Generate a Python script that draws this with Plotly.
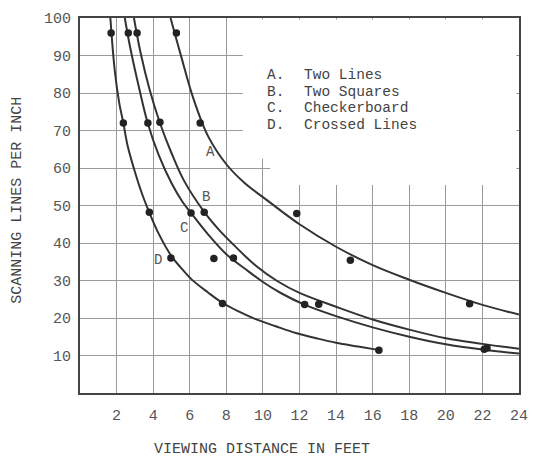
import plotly.graph_objects as go

# ---- data ----
x_ticks = [2, 4, 6, 8, 10, 12, 14, 16, 18, 20, 22, 24]
y_ticks = [10, 20, 30, 40, 50, 60, 70, 80, 90, 100]

curve_a_x = [4.95, 5.5, 6.2, 7.0, 8.0, 9.0, 10.2, 12.0, 14.0, 16.0, 18.0, 20.0, 22.0, 24.0]
curve_a_y = [100, 90.3, 78.5, 68.5, 61, 56, 51.5, 45, 39, 34.1, 30.2, 26.7, 23.5, 20.9]

curve_b_x = [2.95, 3.3, 3.8, 4.37, 5.0, 5.7, 6.79, 7.6, 8.4, 9.6, 10.8, 12.0, 14.0, 16.0, 18.0, 20.0, 22.0, 24.0]
curve_b_y = [100, 91, 81, 72, 64, 56.5, 48.3, 43.5, 39.5, 34, 29.8, 26.7, 23, 19.6, 16.9, 14.6, 13.1, 11.8]

curve_c_x = [2.45, 2.75, 3.2, 3.7, 4.3, 5.0, 5.6, 6.07, 7.0, 8.0, 9.0, 10.0, 11.0, 12.3, 14.0, 16.0, 18.0, 20.0, 22.0, 24.0]
curve_c_y = [100, 92, 82, 72, 63.5, 56, 51, 48, 42.3, 37, 33.2, 29.6, 26.6, 23.5, 20.5, 17.5, 15, 13, 11.6, 10.5]

curve_d_x = [1.66, 1.9, 2.14, 2.37, 2.6, 3.0, 3.4, 3.8, 4.3, 5.0, 5.5, 6.1, 7.0, 7.8, 8.7, 9.6, 10.7, 11.8, 13.0, 14.0, 15.2, 16.3]
curve_d_y = [100, 86, 77.5, 72, 66, 59, 53, 48, 42.5, 36.5, 33.5, 30.3, 26.8, 24, 21.7, 19.7, 17.8, 16, 14.5, 13.4, 12.4, 11.5]

points_a_x = [5.27, 6.57, 11.85, 14.78, 21.3]
points_a_y = [96, 72, 47.9, 35.4, 23.8]
points_b_x = [3.12, 4.37, 6.79, 8.39, 13.05, 22.25]
points_b_y = [96, 72.2, 48.2, 36, 23.7, 12.0]
points_c_x = [2.64, 3.71, 6.07, 7.32, 12.28, 22.1]
points_c_y = [96, 72, 48, 35.9, 23.6, 11.7]
points_d_x = [1.70, 2.37, 3.79, 4.97, 7.79, 16.34]
points_d_y = [96, 72, 48.2, 36, 23.9, 11.4]

curve_letters = ["A", "B", "C", "D"]
curve_names = ["Two Lines", "Two Squares", "Checkerboard", "Crossed Lines"]

FONT = "Liberation Mono"
LINE_COLOR = "#333333"
DOT_COLOR = "#222222"
TEXT_COLOR = "#444444"

fig = go.Figure()

for cx, cy in [(curve_a_x, curve_a_y), (curve_b_x, curve_b_y),
               (curve_c_x, curve_c_y), (curve_d_x, curve_d_y)]:
    fig.add_trace(go.Scatter(x=cx, y=cy, mode="lines",
                             line=dict(color=LINE_COLOR, width=2, shape="spline", smoothing=1.0),
                             hoverinfo="skip", showlegend=False))

for px, py in [(points_a_x, points_a_y), (points_b_x, points_b_y),
               (points_c_x, points_c_y), (points_d_x, points_d_y)]:
    fig.add_trace(go.Scatter(x=px, y=py, mode="markers",
                             marker=dict(color=DOT_COLOR, size=7.5),
                             showlegend=False))

annotations = []
# curve labels
label_pos = [(7.12, 64.4), (6.9, 52.4), (5.68, 44.1), (4.28, 35.6)]
for letter, (lx, ly) in zip(curve_letters, label_pos):
    annotations.append(dict(x=lx, y=ly, xref="x", yref="y", text=letter, showarrow=False,
                            font=dict(family=FONT, size=14, color="#555555")))

# key
key_rows = [84.7, 80.3, 76.1, 71.6]
for letter, name, ry in zip(curve_letters, curve_names, key_rows):
    annotations.append(dict(x=10.18, y=ry, xref="x", yref="y", text=letter + ".",
                            showarrow=False, xanchor="left", yanchor="middle", borderpad=0,
                            font=dict(family=FONT, size=14.5, color=TEXT_COLOR)))
    annotations.append(dict(x=12.2, y=ry, xref="x", yref="y", text=name,
                            showarrow=False, xanchor="left", yanchor="middle", borderpad=0,
                            font=dict(family=FONT, size=14.5, color=TEXT_COLOR)))

# axis titles
annotations.append(dict(x=0.415, y=-0.152, xref="paper", yref="paper",
                        text="VIEWING DISTANCE IN FEET", showarrow=False,
                        xanchor="center", yanchor="middle",
                        font=dict(family=FONT, size=15, color=TEXT_COLOR)))
annotations.append(dict(x=-0.143, y=0.513, xref="paper", yref="paper",
                        text="SCANNING LINES PER INCH", showarrow=False, textangle=-90,
                        xanchor="center", yanchor="middle",
                        font=dict(family=FONT, size=15, color=TEXT_COLOR)))

shapes = [
    dict(type="rect", xref="x", yref="y", x0=8.9, x1=23.85, y0=62.5, y1=99.6,
         fillcolor="white", line=dict(width=0), layer="between"),
    dict(type="rect", xref="x", yref="y", x0=10.4, x1=23.85, y0=55.5, y1=62.5,
         fillcolor="white", line=dict(width=0), layer="between"),
]

fig.update_layout(
    width=535, height=457,
    margin=dict(l=80, r=7, t=18, b=64),
    paper_bgcolor="white", plot_bgcolor="white",
    annotations=annotations, shapes=shapes,
    xaxis=dict(range=[0, 24], tickvals=x_ticks, ticktext=[str(v) for v in x_ticks],
               showgrid=True, gridcolor="#9a9a9a", gridwidth=1,
               showline=True, mirror=True, linecolor="#444444", linewidth=2,
               zeroline=False, ticks="", ticklabelstandoff=7,
               ticklabeloverflow="allow",
               tickfont=dict(family=FONT, size=15, color="#555555")),
    yaxis=dict(range=[0, 100], tickvals=y_ticks, ticktext=[str(v) for v in y_ticks],
               showgrid=True, gridcolor="#9a9a9a", gridwidth=1,
               showline=True, mirror=True, linecolor="#444444", linewidth=2,
               zeroline=False, ticks="", ticklabelstandoff=4,
               tickfont=dict(family=FONT, size=15, color="#555555")),
)

# remove the default page margin so the 535x457 figure fills the window exactly
fig.write_html("out.html",
               config={"displayModeBar": False},
               post_script="document.body.style.margin='0';document.body.style.overflow='hidden';")
